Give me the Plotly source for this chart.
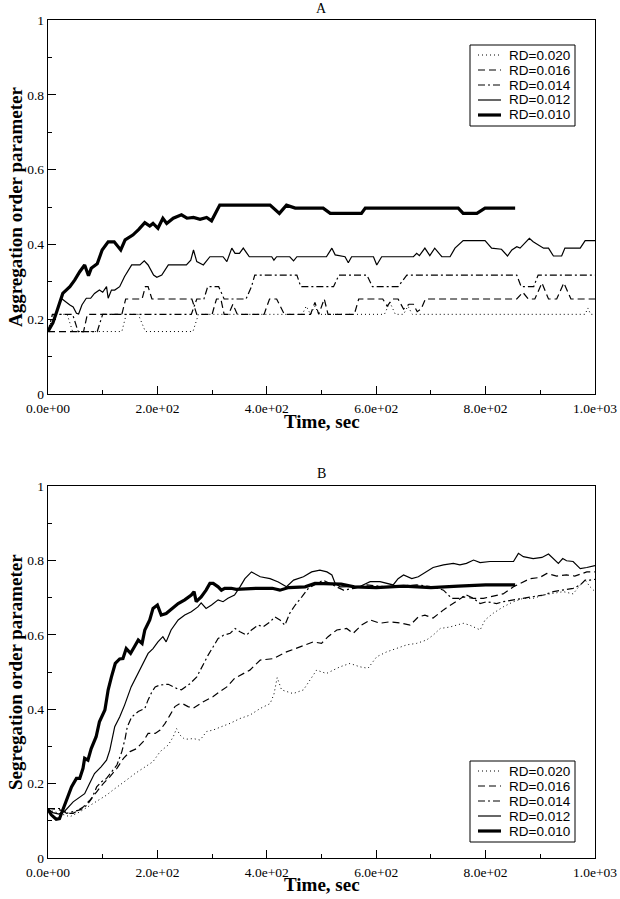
import plotly.graph_objects as go

# ---------------- data (time in s, order parameter) ----------------
labels = ["RD=0.020", "RD=0.016", "RD=0.014", "RD=0.012", "RD=0.010"]

A_RD020 = [(0,0.167),(10,0.213),(35,0.213),(45,0.167),(135,0.167),(143,0.213),(165,0.213),(178,0.167),
           (265,0.167),(275,0.213),(465,0.213),(472,0.235),(480,0.213),(488,0.235),(495,0.213),(615,0.213),
           (625,0.245),(635,0.213),(650,0.213),(658,0.235),(666,0.213),(982,0.213),(987,0.23),(992,0.213),(1000,0.213)]
A_RD016 = [(0,0.167),(65,0.167),(72,0.213),(135,0.213),(142,0.254),(172,0.254),(178,0.287),(183,0.287),(190,0.254),
           (263,0.254),(272,0.213),(300,0.213),(308,0.254),(316,0.254),(322,0.213),(330,0.213),(338,0.24),(346,0.213),
           (395,0.213),(405,0.254),(418,0.254),(432,0.213),(480,0.213),(488,0.245),(495,0.213),(505,0.254),(512,0.213),
           (560,0.213),(568,0.254),(612,0.254),(620,0.235),(630,0.254),(640,0.254),(650,0.227),(660,0.24),(668,0.24),
           (675,0.22),(682,0.227),(690,0.254),(857,0.254),(868,0.272),(878,0.254),(890,0.254),(903,0.297),(915,0.254),
           (930,0.254),(943,0.297),(956,0.254),(1000,0.254)]
A_RD014 = [(0,0.167),(8,0.213),(45,0.213),(55,0.167),(90,0.167),(100,0.213),(262,0.213),(272,0.254),(285,0.254),
           (292,0.287),(312,0.287),(322,0.254),(362,0.254),(372,0.287),(378,0.318),(455,0.318),(462,0.287),(522,0.287),
           (532,0.318),(583,0.318),(593,0.287),(640,0.287),(656,0.318),(857,0.318),(865,0.287),(888,0.287),(896,0.318),
           (1000,0.318)]
A_RD012 = [(0,0.167),(9,0.19),(15,0.216),(24,0.256),(40,0.238),(46,0.233),(52,0.216),(56,0.214),(62,0.238),(70,0.256),
           (78,0.256),(85,0.269),(94,0.278),(100,0.272),(107,0.287),(110,0.256),(116,0.278),(122,0.278),(131,0.287),
           (140,0.314),(153,0.345),(168,0.345),(176,0.356),(183,0.345),(193,0.318),(199,0.312),(208,0.318),(220,0.345),
           (253,0.345),(261,0.358),(266,0.385),(272,0.354),(284,0.345),(296,0.367),(320,0.367),(327,0.354),(336,0.39),
           (342,0.376),(350,0.376),(357,0.39),(368,0.367),(409,0.367),(413,0.358),(418,0.367),(442,0.367),(449,0.356),
           (455,0.367),(509,0.367),(519,0.39),(525,0.372),(543,0.367),(549,0.351),(555,0.367),(595,0.367),(601,0.345),
           (610,0.367),(668,0.367),(674,0.376),(679,0.37),(689,0.39),(698,0.37),(707,0.39),(720,0.367),(735,0.367),
           (744,0.39),(759,0.41),(799,0.41),(811,0.39),(829,0.387),(840,0.369),(848,0.385),(857,0.394),(863,0.39),
           (880,0.416),(887,0.407),(896,0.398),(906,0.39),(915,0.39),(924,0.369),(939,0.369),(945,0.39),(973,0.39),
           (982,0.41),(1000,0.41)]
A_RD010 = [(0,0.167),(9,0.19),(15,0.216),(21,0.243),(27,0.269),(40,0.287),(49,0.305),(58,0.327),(67,0.345),(74,0.316),
           (79,0.336),(90,0.348),(99,0.385),(110,0.407),(121,0.407),(133,0.385),(141,0.412),(155,0.425),(166,0.44),
           (177,0.458),(186,0.449),(192,0.456),(201,0.443),(210,0.47),(217,0.456),(229,0.47),(244,0.479),(254,0.47),
           (266,0.472),(278,0.467),(290,0.472),(299,0.463),(305,0.479),(314,0.505),(406,0.505),(423,0.483),(436,0.505),
           (452,0.497),(503,0.497),(516,0.483),(573,0.483),(580,0.497),(750,0.497),(759,0.483),(784,0.483),(799,0.497),
           (854,0.497)]

B_RD020 = [(0,0.13),(22,0.12),(40,0.111),(58,0.124),(77,0.142),(95,0.16),(107,0.169),(119,0.183),(132,0.196),
           (144,0.21),(159,0.227),(174,0.241),(192,0.259),(205,0.286),(220,0.304),(229,0.326),(235,0.348),(241,0.331),
           (250,0.319),(266,0.321),(278,0.317),(290,0.34),(302,0.344),(317,0.353),(333,0.362),(351,0.375),(369,0.384),
           (388,0.402),(406,0.415),(413,0.44),(419,0.485),(427,0.452),(448,0.442),(467,0.452),(491,0.505),(509,0.496),
           (534,0.514),(552,0.523),(570,0.514),(585,0.51),(601,0.541),(619,0.554),(637,0.563),(656,0.573),(674,0.577),
           (692,0.586),(704,0.599),(717,0.617),(735,0.621),(759,0.631),(771,0.626),(790,0.613),(799,0.64),(814,0.658),
           (832,0.675),(851,0.689),(869,0.698),(887,0.698),(906,0.707),(924,0.711),(942,0.716),(960,0.71),(973,0.734),
           (982,0.747),(991,0.729),(1000,0.716)]
B_RD016 = [(0,0.133),(20,0.13),(40,0.12),(46,0.12),(65,0.138),(77,0.156),(89,0.178),(101,0.2),(113,0.218),(126,0.241),
           (138,0.268),(150,0.286),(162,0.294),(174,0.313),(183,0.335),(196,0.335),(205,0.344),(214,0.362),(223,0.384),
           (232,0.407),(241,0.415),(247,0.414),(256,0.407),(266,0.403),(284,0.42),(302,0.434),(314,0.447),(327,0.46),
           (341,0.483),(369,0.505),(388,0.532),(412,0.536),(436,0.554),(461,0.568),(485,0.581),(500,0.577),(512,0.595),
           (528,0.613),(546,0.617),(558,0.604),(573,0.626),(589,0.64),(607,0.631),(625,0.635),(644,0.632),(662,0.626),
           (677,0.648),(689,0.653),(704,0.645),(723,0.667),(741,0.684),(759,0.702),(778,0.698),(796,0.698),(814,0.704),
           (832,0.71),(851,0.729),(863,0.738),(881,0.751),(899,0.754),(912,0.765),(930,0.758),(948,0.761),(963,0.758),
           (976,0.765),(985,0.769),(1000,0.769)]
B_RD014 = [(0,0.133),(22,0.133),(34,0.12),(46,0.124),(60,0.13),(71,0.142),(80,0.16),(89,0.191),(98,0.205),(107,0.214),
           (116,0.232),(126,0.25),(135,0.286),(141,0.321),(145,0.353),(153,0.379),(165,0.394),(177,0.402),(183,0.425),
           (190,0.447),(196,0.46),(205,0.465),(220,0.467),(235,0.456),(244,0.452),(260,0.469),(272,0.487),(284,0.523),
           (293,0.546),(302,0.568),(311,0.59),(321,0.599),(333,0.604),(342,0.617),(351,0.608),(363,0.599),(372,0.613),
           (384,0.626),(394,0.622),(406,0.635),(415,0.648),(424,0.64),(433,0.626),(442,0.658),(452,0.68),(464,0.702),
           (476,0.725),(503,0.747),(522,0.734),(540,0.72),(560,0.725),(583,0.734),(618,0.729),(674,0.734),(704,0.729),
           (723,0.72),(738,0.698),(753,0.698),(765,0.707),(778,0.698),(790,0.684),(802,0.689),(820,0.684),(832,0.689),
           (851,0.694),(869,0.698),(887,0.704),(906,0.707),(924,0.716),(942,0.72),(960,0.725),(973,0.734),(982,0.747),
           (991,0.747),(1000,0.749)]
B_RD012 = [(0,0.131),(9,0.122),(20,0.118),(30,0.125),(46,0.151),(58,0.165),(67,0.173),(76,0.2),(85,0.227),(97,0.245),
           (107,0.263),(113,0.29),(122,0.353),(131,0.379),(140,0.411),(152,0.46),(165,0.496),(174,0.523),(183,0.55),
           (192,0.563),(201,0.581),(210,0.595),(216,0.581),(225,0.613),(238,0.64),(250,0.653),(262,0.662),(274,0.675),
           (280,0.686),(289,0.671),(299,0.68),(311,0.694),(320,0.689),(329,0.698),(341,0.707),(351,0.729),(360,0.751),
           (372,0.769),(388,0.756),(406,0.751),(421,0.742),(436,0.729),(449,0.747),(467,0.756),(482,0.769),(497,0.774),
           (510,0.769),(519,0.761),(525,0.738),(534,0.729),(570,0.73),(589,0.743),(607,0.743),(631,0.734),(640,0.751),
           (650,0.761),(665,0.751),(677,0.756),(692,0.769),(704,0.781),(723,0.788),(741,0.792),(753,0.788),(765,0.792),
           (778,0.801),(790,0.794),(808,0.797),(851,0.797),(860,0.819),(869,0.81),(887,0.805),(903,0.808),(915,0.817),
           (924,0.805),(933,0.792),(941,0.805),(948,0.799),(960,0.797),(973,0.778),(985,0.781),(1000,0.786)]
B_RD010 = [(0,0.131),(6,0.116),(15,0.104),(21,0.106),(27,0.129),(37,0.165),(43,0.191),(52,0.214),(58,0.214),(64,0.241),
           (67,0.268),(73,0.263),(79,0.294),(88,0.326),(94,0.366),(104,0.398),(110,0.452),(116,0.487),(123,0.523),
           (131,0.535),(137,0.536),(143,0.563),(151,0.55),(158,0.568),(165,0.586),(172,0.577),(177,0.613),(186,0.64),
           (192,0.671),(200,0.68),(207,0.653),(216,0.657),(225,0.667),(238,0.684),(250,0.694),(262,0.707),(267,0.716),
           (271,0.689),(280,0.702),(289,0.72),(296,0.738),(302,0.738),(311,0.729),(317,0.72),(323,0.725),(335,0.725),
           (344,0.722),(380,0.725),(410,0.725),(424,0.72),(440,0.727),(470,0.729),(488,0.738),(536,0.736),(560,0.729),
           (600,0.727),(650,0.731),(700,0.727),(750,0.731),(800,0.734),(854,0.734)]

x_tickvals = [0, 200, 400, 600, 800, 1000]
x_ticktext = ["0.0e+00", "2.0e+02", "4.0e+02", "6.0e+02", "8.0e+02", "1.0e+03"]
y_tickvals = [0, 0.2, 0.4, 0.6, 0.8, 1.0]
y_ticktext = ["0", "0.2", "0.4", "0.6", "0.8", "1"]

# ---------------- styles ----------------
styles = [
    dict(width=1, dash="1px,3px"),
    dict(width=1.2, dash="7px,4px"),
    dict(width=1.2, dash="7px,3px,2px,3px"),
    dict(width=1.2, dash="solid"),
    dict(width=3.2, dash="solid"),
]

fig = go.Figure()
for series_set, xa, ya in [
    ([A_RD020, A_RD016, A_RD014, A_RD012, A_RD010], "x", "y"),
    ([B_RD020, B_RD016, B_RD014, B_RD012, B_RD010], "x2", "y2"),
]:
    for name, pts, st in zip(labels, series_set, styles):
        t = [p[0] for p in pts]
        v = [p[1] for p in pts]
        fig.add_trace(go.Scatter(x=t, y=v, mode="lines", name=name, showlegend=False,
                                 line=dict(color="black", width=st["width"], dash=st["dash"]),
                                 xaxis=xa, yaxis=ya))

W, H = 620, 899
X0, X1 = 48, 595          # plot area left/right (pixels)
YT, YB = 20, 858          # top of upper panel / bottom of lower panel (pixels)
ml, mr, mt, mb = X0, W - X1, YT, H - YB
ph = H - mt - mb
pw = X1 - X0
top_dom = [(YB - 394) / ph, 1.0]
bot_dom = [0.0, (YB - 486) / ph]

def py(pix):
    return (YB - pix) / ph
def px(pix):
    return (pix - X0) / pw

tickfont = dict(family="Liberation Serif, Times New Roman, serif", size=13.5, color="black")

def xax(anchor):
    return dict(range=[0, 1000], anchor=anchor, showline=True, linecolor="black", linewidth=1.2,
                mirror=True, ticks="inside", ticklen=8, tickwidth=1, tickcolor="black",
                tickmode="array", tickvals=x_tickvals, ticktext=x_ticktext, tickfont=tickfont,
                ticklabelstandoff=2, showgrid=False, zeroline=False,
                minor=dict(tickmode="array", tickvals=[100, 300, 500, 700, 900], ticks="inside",
                           ticklen=4, tickcolor="black", showgrid=False))

def yax(anchor, dom):
    return dict(range=[0, 1], domain=dom, anchor=anchor, showline=True, linecolor="black", linewidth=1.2,
                mirror=True, ticks="inside", ticklen=8, tickwidth=1, tickcolor="black",
                tickmode="array", tickvals=y_tickvals, ticktext=y_ticktext, tickfont=tickfont,
                showgrid=False, zeroline=False,
                minor=dict(tickmode="array", tickvals=[0.1, 0.3, 0.5, 0.7, 0.9], ticks="inside",
                           ticklen=4, tickcolor="black", showgrid=False))

fig.update_layout(
    width=W, height=H, margin=dict(l=ml, r=mr, t=mt, b=mb, autoexpand=False),
    paper_bgcolor="white", plot_bgcolor="white", showlegend=False, hovermode=False,
    xaxis=xax("y"), yaxis=yax("x", top_dom),
    xaxis2=xax("y2"), yaxis2=yax("x2", bot_dom),
)

# ---------------- boxed legends with tight rows ----------------
legfont = dict(family="Liberation Sans, Arial, sans-serif", size=13.5, color="black")
shapes = []
ann = []
for box_top, first_row in [(45, 55), (761, 771)]:
    shapes.append(dict(type="rect", xref="paper", yref="paper",
                       x0=px(470), x1=px(575), y0=py(box_top + 81), y1=py(box_top),
                       line=dict(color="black", width=1), fillcolor="white", layer="above"))
    for i, (name, st) in enumerate(zip(labels, styles)):
        yr = first_row + 15 * i
        shapes.append(dict(type="line", xref="paper", yref="paper",
                           x0=px(478), x1=px(501), y0=py(yr), y1=py(yr),
                           line=dict(color="black", width=st["width"], dash=st["dash"]), layer="above"))
        ann.append(dict(text=name, x=px(507), y=py(yr), xanchor="left", yanchor="middle", font=legfont))

titlefont = dict(family="Liberation Serif, Times New Roman, serif", size=19, color="black", weight="bold")
panelfont = dict(family="Liberation Serif, Times New Roman, serif", size=14, color="black")

ann += [
    dict(text="A", x=0.5, y=py(9), font=panelfont),
    dict(text="B", x=0.5, y=py(473), font=panelfont),
    dict(text="Time, sec", x=0.5, y=py(421), font=titlefont),
    dict(text="Time, sec", x=0.5, y=py(884), font=titlefont),
    dict(text="Aggregation order parameter", x=px(15), y=py(207), font=titlefont, textangle=-90),
    dict(text="Segregation order parameter", x=px(15), y=py(672), font=titlefont, textangle=-90),
]
for a in ann:
    a.update(xref="paper", yref="paper", showarrow=False)
    a.setdefault("xanchor", "center")
    a.setdefault("yanchor", "middle")
fig.update_layout(annotations=ann, shapes=shapes)

# the browser's default 8px body margin would shift the figure; remove it
fig.write_html("out.html", config={"displayModeBar": False, "staticPlot": True},
               post_script="document.body.style.margin='0px';")
